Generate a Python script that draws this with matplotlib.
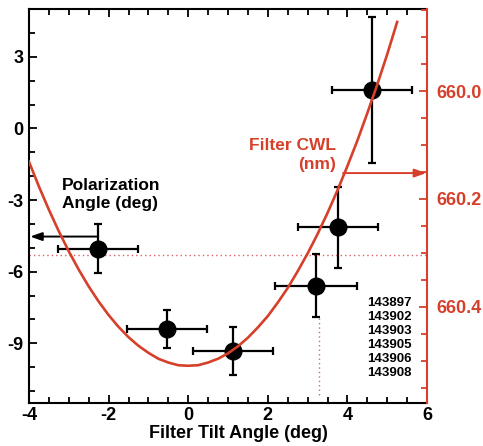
"""
Polarization angle vs filter tilt, with the filter CWL curve on a
second (inverted) axis.  Values read off the reference figure.
"""

import matplotlib
matplotlib.use("Agg")
import matplotlib.pyplot as plt
from matplotlib.ticker import MultipleLocator

plt.rcParams["font.family"] = ["Liberation Sans", "DejaVu Sans"]
plt.rcParams["font.weight"] = "bold"
plt.rcParams["axes.unicode_minus"] = False

RED = "#d6402a"
PINK = "#e0606a"

# ---------------------------------------------------------------------
# Data
# ---------------------------------------------------------------------

# measured polarization angle points
tilt = [-2.26, -0.53, 1.12, 3.22, 3.77, 4.62]
pol_angle = [-5.03, -8.39, -9.31, -6.58, -4.15, 1.59]
tilt_err = [1.0, 1.0, 1.0, 1.03, 1.0, 1.0]
pol_err = [1.03, 0.8, 1.0, 1.33, 1.7, 3.06]

# filter centre wavelength curve (nm), read at tilt steps of 0.25 deg
curve_tilt = [-4.0, -3.75, -3.5, -3.25, -3.0, -2.75, -2.5, -2.25, -2.0,
              -1.75, -1.5, -1.25, -1.0, -0.75, -0.5, -0.25, 0.0,
              0.25, 0.5, 0.75, 1.0, 1.25, 1.5, 1.75, 2.0, 2.25, 2.5,
              2.75, 3.0, 3.25, 3.5, 3.75, 4.0, 4.25, 4.5, 4.75, 5.0, 5.25]
curve_cwl = [660.131, 660.177, 660.220, 660.260, 660.297, 660.331,
             660.362, 660.390, 660.415, 660.437, 660.456, 660.472,
             660.485, 660.496, 660.503, 660.508, 660.509,
             660.508, 660.503, 660.496, 660.486, 660.473, 660.457,
             660.438, 660.417, 660.392, 660.365, 660.334, 660.301,
             660.265, 660.226, 660.184, 660.139, 660.092, 660.041,
             659.988, 659.932, 659.872]

run_ids = ["143897", "143902", "143903", "143905", "143906", "143908"]

# reference markers
hline_pol = -5.32
vline_tilt = 3.29
pol_arrow_y = -4.53
cwl_arrow = 660.152
cwl_arrow_tilt = 3.89


# ---------------------------------------------------------------------
# Plot
# ---------------------------------------------------------------------

fig = plt.figure(figsize=(4.83, 4.46), dpi=100)
ax = fig.add_axes([29 / 483, 1 - 403 / 446, 398 / 483, 394 / 446])
ax2 = ax.twinx()

ax.set_xlim(-4, 6)
ax.set_ylim(-11.5, 5)
ax2.set_ylim(660.578, 659.848)

# curve (on CWL axis)
ax2.plot(curve_tilt, curve_cwl, color=RED, lw=1.9, zorder=3)

# dotted reference lines
ax.axhline(hline_pol, color=PINK, lw=1.0, ls=(0, (1, 2.2)), zorder=1)
ax.plot([vline_tilt, vline_tilt], [-7.95, -11.2], color=PINK, lw=1.0,
        ls=(0, (1, 2.2)), zorder=1)

# data points
ax.errorbar(tilt, pol_angle, xerr=tilt_err, yerr=pol_err, fmt="o",
            color="black", ms=12, elinewidth=1.6, capsize=3.2,
            capthick=1.6, zorder=4)

# arrows
ax.annotate("", xy=(-3.97, pol_arrow_y), xytext=(tilt[0], pol_arrow_y),
            arrowprops=dict(arrowstyle="-|>,head_length=0.7,head_width=0.25",
                            color="black", lw=1.4, shrinkA=0, shrinkB=0))
ax2.annotate("", xy=(5.98, cwl_arrow), xytext=(cwl_arrow_tilt, cwl_arrow),
             arrowprops=dict(arrowstyle="-|>,head_length=0.7,head_width=0.25",
                             color=RED, lw=1.4, shrinkA=0, shrinkB=0))

# labels inside the plot
ax.text(-3.17, -2.77, "Polarization\nAngle (deg)", fontsize=12.5,
        fontweight="bold", ha="left", va="center", linespacing=1.3)
ax.text(3.72, -1.12, "Filter CWL\n(nm)", fontsize=12.5, color=RED,
        fontweight="bold", ha="right", va="center", multialignment="right",
        linespacing=1.3)
ax.text(4.5, -8.76, "\n".join(run_ids), fontsize=9.5, fontweight="bold",
        ha="left", va="center", linespacing=1.22)

# axes styling
ax.xaxis.set_major_locator(MultipleLocator(2))
ax.xaxis.set_minor_locator(MultipleLocator(0.5))
ax.yaxis.set_major_locator(MultipleLocator(3))
ax.yaxis.set_minor_locator(MultipleLocator(1))
ax.tick_params(which="both", direction="in", top=True, right=False,
               width=1.3, labelsize=13)
ax.tick_params(which="major", length=6)
ax.tick_params(which="minor", length=4)
ax.tick_params(axis="x", pad=3)
ax.tick_params(axis="y", pad=4)

ax2.yaxis.set_major_locator(MultipleLocator(0.2))
ax2.yaxis.set_minor_locator(MultipleLocator(0.05))
ax2.yaxis.set_major_formatter(lambda v, pos: f"{v:.1f}")
ax2.tick_params(which="both", direction="in", colors=RED, width=1.3,
                labelsize=13, pad=7)
ax2.tick_params(which="major", length=6)
ax2.tick_params(which="minor", length=4)

for s in ["left", "bottom", "top"]:
    ax.spines[s].set_linewidth(1.5)
ax.spines["right"].set_visible(False)
for s in ["left", "bottom", "top"]:
    ax2.spines[s].set_visible(False)
ax2.spines["right"].set_color(RED)
ax2.spines["right"].set_linewidth(1.5)

ax.set_xlabel("Filter Tilt Angle (deg)", fontsize=13, fontweight="bold")
ax.xaxis.set_label_coords((238 - 29) / 398, -0.055)

fig.savefig("out.png", dpi=100)
